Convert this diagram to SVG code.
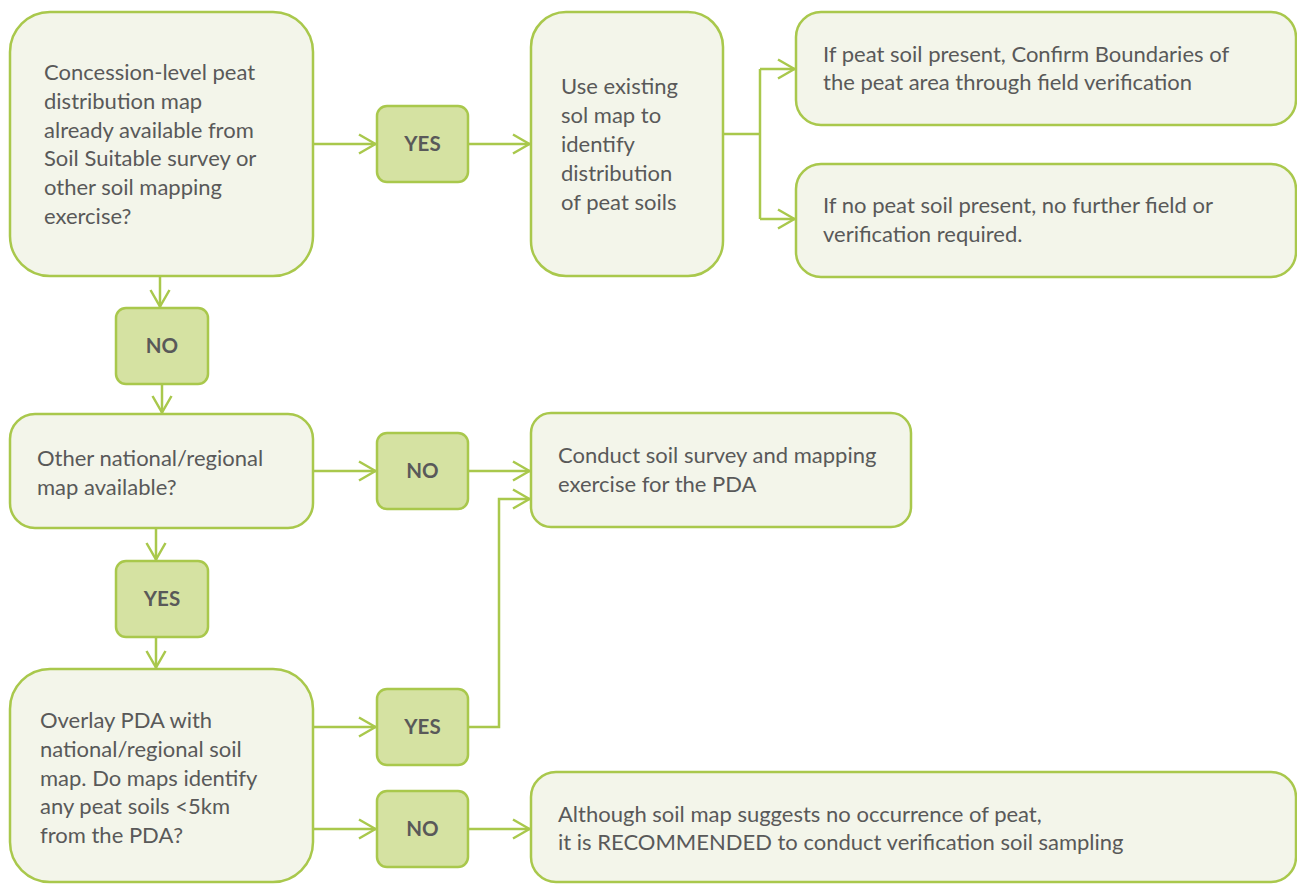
<svg xmlns="http://www.w3.org/2000/svg" width="1297" height="884" viewBox="0 0 1297 884">
<defs>
<style>
.box{fill:#f3f5ea;stroke:#a9c84c;stroke-width:2.5}
.lab{fill:#d5e2a2;stroke:#a9c84c;stroke-width:2.5}
.t{font-family:Lato,"Open Sans",sans-serif;font-size:22px;fill:#595959}
.b{font-family:Lato,"Open Sans",sans-serif;font-size:20.5px;font-weight:bold;fill:#595959;text-anchor:middle}
.c{fill:none;stroke:#a9c84c;stroke-width:2.5}
</style>
<marker id="ah" viewBox="0 0 19 22" refX="18" refY="11" markerWidth="19" markerHeight="22" markerUnits="userSpaceOnUse" orient="auto">
<path d="M1,1.5 L17.5,11 L1,20.5" fill="none" stroke="#a9c84c" stroke-width="2.5"/>
</marker>
</defs>
<rect width="1297" height="884" fill="#ffffff"/>
<g id="connectors">
<path class="c" d="M313,144 H376" marker-end="url(#ah)"/>
<path class="c" d="M468,144 H530" marker-end="url(#ah)"/>
<path class="c" d="M723,134 H760"/>
<path class="c" d="M760,69 V219"/>
<path class="c" d="M760,69 H795" marker-end="url(#ah)"/>
<path class="c" d="M760,219 H795" marker-end="url(#ah)"/>
<path class="c" d="M160,276 V307" marker-end="url(#ah)"/>
<path class="c" d="M162,384 V413" marker-end="url(#ah)"/>
<path class="c" d="M313,471 H376" marker-end="url(#ah)"/>
<path class="c" d="M468,471 H530" marker-end="url(#ah)"/>
<path class="c" d="M156,528 V560" marker-end="url(#ah)"/>
<path class="c" d="M156,637 V668" marker-end="url(#ah)"/>
<path class="c" d="M313,727 H376" marker-end="url(#ah)"/>
<path class="c" d="M468,727 H499 V499 H530" marker-end="url(#ah)"/>
<path class="c" d="M313,829 H376" marker-end="url(#ah)"/>
<path class="c" d="M468,829 H530" marker-end="url(#ah)"/>
</g>
<g id="nodeA">
<rect class="box" x="10" y="12" width="303" height="264" rx="40"/>
<text class="t"><tspan x="44" y="80">Concession-level peat</tspan><tspan x="44" y="109">distribution map</tspan><tspan x="44" y="138">already available from</tspan><tspan x="44" y="166">Soil Suitable survey or</tspan><tspan x="44" y="195">other soil mapping</tspan><tspan x="44" y="224">exercise?</tspan></text>
</g>
<g id="yes1">
<rect class="lab" x="377" y="106" width="91" height="76" rx="10"/>
<text class="b" x="422.5" y="151">YES</text>
</g>
<g id="nodeB">
<rect class="box" x="531" y="12" width="192" height="264" rx="35"/>
<text class="t"><tspan x="561" y="94">Use existing</tspan><tspan x="561" y="123">sol map to</tspan><tspan x="561" y="152">identify</tspan><tspan x="561" y="181">distribution</tspan><tspan x="561" y="210">of peat soils</tspan></text>
</g>
<g id="nodeC">
<rect class="box" x="796" y="12" width="500" height="113" rx="25"/>
<text class="t"><tspan x="823" y="62">If peat soil present, Confirm Boundaries of</tspan><tspan x="823" y="90">the peat area through field verification</tspan></text>
</g>
<g id="nodeD">
<rect class="box" x="796" y="164" width="500" height="113" rx="25"/>
<text class="t"><tspan x="823" y="213">If no peat soil present, no further field or</tspan><tspan x="823" y="242">verification required.</tspan></text>
</g>
<g id="no1">
<rect class="lab" x="116" y="308" width="92" height="76" rx="10"/>
<text class="b" x="162" y="353">NO</text>
</g>
<g id="nodeE">
<rect class="box" x="10" y="414" width="303" height="114" rx="25"/>
<text class="t"><tspan x="37" y="466">Other national/regional</tspan><tspan x="37" y="495">map available?</tspan></text>
</g>
<g id="no2">
<rect class="lab" x="377" y="433" width="91" height="76" rx="10"/>
<text class="b" x="422.5" y="478">NO</text>
</g>
<g id="nodeF">
<rect class="box" x="531" y="413" width="380" height="114" rx="20"/>
<text class="t"><tspan x="558" y="463">Conduct soil survey and mapping</tspan><tspan x="558" y="492">exercise for the PDA</tspan></text>
</g>
<g id="yes2">
<rect class="lab" x="116" y="561" width="92" height="76" rx="10"/>
<text class="b" x="162" y="606">YES</text>
</g>
<g id="nodeG">
<rect class="box" x="10" y="669" width="303" height="213" rx="40"/>
<text class="t"><tspan x="40" y="728">Overlay PDA with</tspan><tspan x="40" y="757">national/regional soil</tspan><tspan x="40" y="786">map. Do maps identify</tspan><tspan x="40" y="814">any peat soils &lt;5km</tspan><tspan x="40" y="843">from the PDA?</tspan></text>
</g>
<g id="yes3">
<rect class="lab" x="377" y="689" width="91" height="76" rx="10"/>
<text class="b" x="422.5" y="734">YES</text>
</g>
<g id="no3">
<rect class="lab" x="377" y="791" width="91" height="76" rx="10"/>
<text class="b" x="422.5" y="836">NO</text>
</g>
<g id="nodeH">
<rect class="box" x="531" y="772" width="765" height="110" rx="25"/>
<text class="t"><tspan x="558" y="822">Although soil map suggests no occurrence of peat,</tspan><tspan x="558" y="850">it is RECOMMENDED to conduct verification soil sampling</tspan></text>
</g>
</svg>
